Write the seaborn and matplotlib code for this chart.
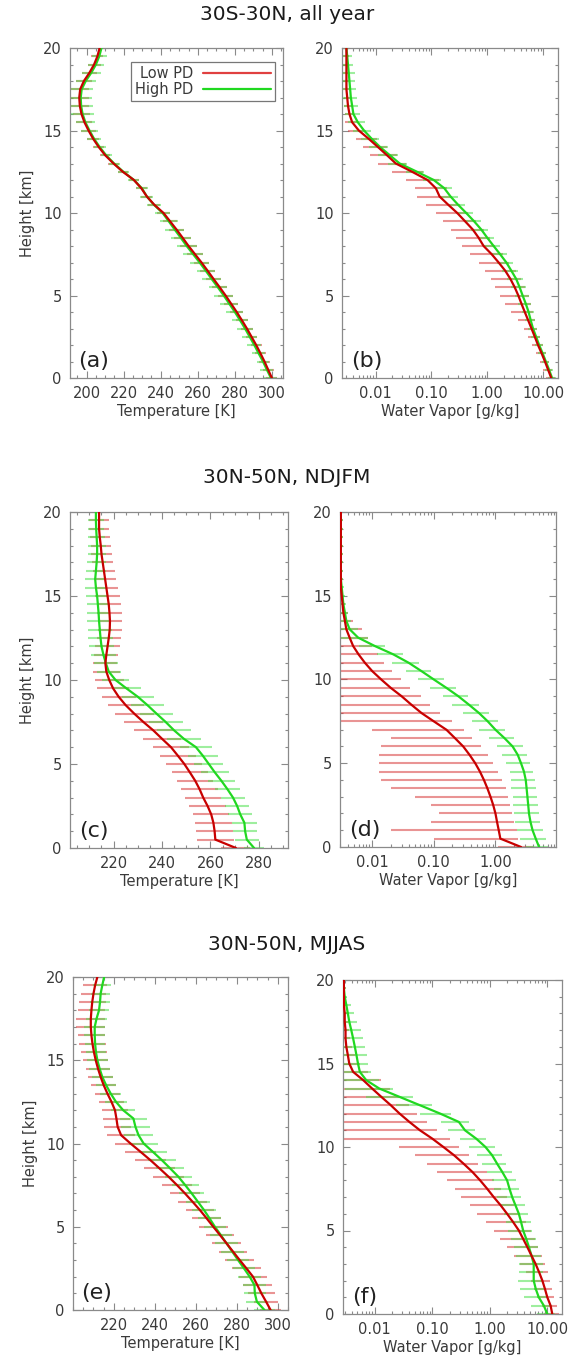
import matplotlib
matplotlib.use("Agg")
import matplotlib.pyplot as plt
import matplotlib.ticker as mticker
import seaborn as sns
import numpy as np
import pandas as pd

# height levels [km]
height_km = [0, 0.5, 1, 1.5, 2, 2.5, 3, 3.5, 4, 4.5, 5, 5.5, 6, 6.5, 7, 7.5, 8, 8.5, 9, 9.5,
             10, 10.5, 11, 11.5, 12, 12.5, 13, 13.5, 14, 14.5, 15, 15.5, 16, 16.5, 17, 17.5,
             18, 18.5, 19, 19.5, 20]

# (a) 30S-30N temperature [K]
t_trop_low = [300.0, 298.0, 296.0, 293.8, 291.5, 289.0, 286.5, 283.8, 281.0, 278.0, 275.0, 271.8,
              268.5, 265.3, 262.0, 258.5, 255.0, 251.8, 248.5, 245.0, 241.5, 236.5, 232.5, 229.5,
              225.5, 219.5, 214.5, 210.0, 206.5, 203.5, 201.0, 198.8, 197.2, 196.3, 196.0, 196.5,
              198.5, 201.5, 204.0, 205.8, 207.0]
t_trop_low_sd = [3.0, 3.0, 3.0, 3.0, 3.0, 3.0, 3.2, 3.4, 3.6, 3.8, 4.0, 4.0, 4.0, 4.0, 4.2, 4.3,
                 4.5, 4.5, 4.3, 4.0, 3.5, 3.2, 3.0, 3.0, 2.8, 2.8, 2.8, 2.8, 3.0, 3.3, 3.8, 4.3,
                 4.8, 5.0, 5.0, 4.8, 4.5, 4.0, 3.5, 3.2, 3.0]
t_trop_high = [299.5, 297.3, 295.2, 292.8, 290.5, 288.0, 285.5, 282.8, 280.0, 277.0, 274.0, 270.8,
               267.5, 264.3, 261.0, 257.5, 254.0, 250.8, 247.5, 244.3, 241.0, 236.3, 232.5, 229.8,
               225.5, 219.8, 214.8, 210.5, 207.0, 204.0, 201.5, 199.3, 197.8, 197.0, 196.8, 197.3,
               199.5, 202.5, 205.0, 206.8, 208.0]
t_trop_high_sd = [3.5, 3.5, 3.5, 3.6, 3.8, 4.0, 4.2, 4.4, 4.6, 4.8, 5.0, 5.0, 5.0, 5.0, 5.2, 5.4,
                  5.5, 5.5, 5.2, 4.8, 4.2, 3.8, 3.5, 3.2, 3.0, 3.0, 3.0, 3.0, 3.3, 3.8, 4.5, 5.3,
                  6.0, 6.3, 6.3, 6.0, 5.5, 5.0, 4.5, 4.0, 3.8]

# (b) 30S-30N water vapour [g/kg]
q_trop_low = [14.0, 12.3, 10.8, 9.4, 8.1, 7.1, 6.2, 5.4, 4.7, 4.1, 3.6, 3.1, 2.6, 2.1, 1.6, 1.2,
              0.86, 0.70, 0.55, 0.40, 0.29, 0.20, 0.14, 0.12, 0.085, 0.045, 0.023, 0.016, 0.011,
              0.0075, 0.0050, 0.0038, 0.0034, 0.0032, 0.0031, 0.0030, 0.0030, 0.0030, 0.0030,
              0.0030, 0.0030]
q_trop_low_sd = [2.5, 2.3, 2.1, 1.9, 1.8, 1.7, 1.7, 1.9, 2.0, 2.0, 1.9, 1.7, 1.45, 1.2, 0.9, 0.7,
                 0.5, 0.42, 0.33, 0.24, 0.17, 0.12, 0.085, 0.07, 0.05, 0.025, 0.012, 0.008, 0.005,
                 0.003, 0.0018, 0.0010, 0.0006, 0.0005, 0.0004, 0.0004, 0.0004, 0.0004, 0.0004,
                 0.0004, 0.0004]
q_trop_high = [14.5, 12.8, 11.2, 9.8, 8.5, 7.5, 6.6, 6.0, 5.5, 4.9, 4.3, 3.8, 3.3, 2.7, 2.2, 1.7,
               1.3, 1.0, 0.78, 0.58, 0.42, 0.30, 0.22, 0.17, 0.11, 0.055, 0.027, 0.018, 0.012,
               0.0085, 0.0062, 0.0048, 0.0040, 0.0038, 0.0036, 0.0035, 0.0034, 0.0033, 0.0032,
               0.0031, 0.0030]
q_trop_high_sd = [2.2, 2.0, 1.8, 1.6, 1.4, 1.3, 1.3, 1.3, 1.3, 1.3, 1.2, 1.1, 1.0, 0.85, 0.7, 0.55,
                  0.42, 0.33, 0.26, 0.2, 0.14, 0.1, 0.075, 0.06, 0.04, 0.02, 0.01, 0.007, 0.0045,
                  0.003, 0.0022, 0.0016, 0.0012, 0.0011, 0.0010, 0.0010, 0.0009, 0.0009, 0.0008,
                  0.0006, 0.0004]

# (c) 30N-50N NDJFM temperature [K]
t_win_low = [270.5, 262.0, 261.7, 261.2, 260.3, 258.8, 257.0, 255.5, 253.7, 251.5, 249.2, 246.5,
             243.7, 240.0, 236.4, 232.3, 228.5, 225.0, 222.1, 219.8, 218.2, 217.0, 216.6, 217.0,
             217.5, 218.0, 218.4, 218.5, 218.3, 218.0, 217.5, 217.0, 216.5, 216.0, 215.5, 215.0,
             214.7, 214.3, 214.0, 214.0, 214.0]
t_win_low_sd = [6.0, 7.5, 7.5, 7.5, 7.5, 7.5, 7.5, 7.5, 7.5, 7.5, 7.5, 7.5, 7.5, 7.8, 8.0, 8.0,
                8.0, 7.5, 7.0, 6.5, 6.0, 5.5, 5.0, 5.0, 5.0, 5.0, 5.0, 5.0, 5.0, 5.0, 5.0, 4.8,
                4.6, 4.5, 4.4, 4.3, 4.2, 4.1, 4.0, 4.0, 4.0]
t_win_high = [278.0, 275.0, 274.3, 274.0, 272.3, 271.0, 269.3, 267.0, 264.5, 261.8, 259.3, 256.8,
              254.0, 249.0, 245.0, 241.5, 237.7, 234.0, 230.0, 225.3, 220.8, 218.0, 216.8, 215.8,
              215.0, 214.6, 214.3, 214.0, 213.8, 213.5, 213.2, 212.7, 212.4, 212.7, 213.0, 213.2,
              213.2, 213.0, 212.8, 212.7, 212.7]
t_win_high_sd = [4.0, 5.0, 5.0, 5.0, 5.0, 5.0, 5.0, 5.2, 5.5, 5.8, 6.0, 6.2, 6.5, 7.0, 7.0, 7.0,
                 7.0, 6.8, 6.5, 6.0, 5.5, 5.0, 5.0, 5.0, 5.0, 5.0, 5.0, 4.8, 4.8, 4.6, 4.5, 4.4,
                 4.2, 4.0, 4.0, 3.8, 3.6, 3.5, 3.3, 3.2, 3.0]

# (d) 30N-50N NDJFM water vapour [g/kg]
q_win_low = [2.6, 1.20, 1.13, 1.06, 1.00, 0.92, 0.83, 0.74, 0.65, 0.56, 0.47, 0.38, 0.30, 0.22,
             0.16, 0.10, 0.063, 0.043, 0.030, 0.020, 0.014, 0.010, 0.0076, 0.0060, 0.0049, 0.0043,
             0.0038, 0.0036, 0.0034, 0.0033, 0.0032, 0.0031, 0.0031, 0.0031, 0.0031, 0.0031,
             0.0031, 0.0031, 0.0031, 0.0031, 0.0031]
q_win_low_sd = [1.5, 1.1, 1.11, 0.97, 0.88, 0.83, 0.78, 0.72, 0.636, 0.547, 0.457, 0.367, 0.286,
                0.2, 0.15, 0.1, 0.065, 0.045, 0.032, 0.021, 0.015, 0.011, 0.008, 0.0062, 0.005,
                0.0042, 0.003, 0.0012, 0.0006, 0.0003, 0.0002, 0.0002, 0.0002, 0.0002, 0.0002,
                0.0002, 0.0002, 0.0002, 0.0002, 0.0002, 0.0002]
q_win_high = [5.1, 4.5, 4.0, 3.7, 3.5, 3.4, 3.3, 3.2, 3.1, 2.9, 2.6, 2.3, 1.9, 1.4, 1.0, 0.75,
              0.54, 0.37, 0.25, 0.16, 0.10, 0.063, 0.039, 0.022, 0.011, 0.0059, 0.0043, 0.0038,
              0.0036, 0.0034, 0.0033, 0.0032, 0.0031, 0.0031, 0.0031, 0.0031, 0.0031, 0.0031,
              0.0031, 0.0031, 0.0031]
q_win_high_sd = [2.0, 2.0, 1.8, 1.6, 1.5, 1.5, 1.4, 1.4, 1.3, 1.2, 1.1, 1.0, 0.85, 0.62, 0.45,
                 0.33, 0.24, 0.17, 0.11, 0.072, 0.045, 0.028, 0.018, 0.010, 0.005, 0.0028, 0.0015,
                 0.0008, 0.0005, 0.0004, 0.0003, 0.0003, 0.0003, 0.0003, 0.0003, 0.0003, 0.0003,
                 0.0003, 0.0003, 0.0003, 0.0003]

# (e) 30N-50N MJJAS temperature [K]
t_sum_low = [296.5, 294.3, 292.0, 290.0, 287.9, 284.7, 281.4, 278.2, 275.0, 271.8, 268.5, 265.3,
             262.0, 258.4, 254.7, 250.8, 246.7, 242.3, 237.8, 233.0, 228.1, 223.5, 221.8, 221.2,
             220.5, 218.8, 216.8, 215.0, 213.5, 212.2, 211.1, 210.2, 209.5, 209.0, 208.7, 208.7,
             209.0, 209.4, 210.0, 210.8, 211.9]
t_sum_low_sd = [5.0, 6.0, 6.5, 7.0, 7.0, 7.0, 7.0, 7.0, 7.0, 7.0, 7.0, 7.0, 7.0, 7.0, 7.2, 7.4,
                7.5, 7.5, 7.5, 7.5, 7.5, 7.0, 6.5, 6.5, 6.5, 6.3, 6.0, 6.0, 6.0, 6.0, 6.0, 6.2,
                6.5, 6.8, 7.0, 7.0, 6.8, 6.5, 6.2, 5.8, 5.5]
t_sum_high = [293.5, 289.8, 288.8, 288.6, 286.3, 283.5, 280.6, 277.8, 275.0, 272.2, 269.3, 266.7,
              264.0, 261.0, 258.0, 254.8, 251.5, 247.5, 243.4, 239.0, 234.5, 232.0, 230.5, 229.5,
              224.5, 221.0, 218.4, 216.2, 214.3, 213.0, 211.9, 211.2, 210.8, 210.6, 210.6, 211.5,
              212.7, 213.2, 213.5, 214.3, 215.2]
t_sum_high_sd = [5.0, 5.5, 5.5, 5.5, 5.5, 5.5, 5.5, 5.5, 5.5, 5.5, 5.5, 5.7, 6.0, 6.0, 6.2, 6.5,
                 6.5, 6.8, 7.0, 7.0, 7.0, 7.0, 7.0, 6.5, 6.0, 5.5, 5.0, 5.0, 5.0, 5.0, 5.0, 5.0,
                 5.0, 5.0, 5.0, 5.0, 5.0, 4.8, 4.5, 4.3, 4.0]

# (f) 30N-50N MJJAS water vapour [g/kg]
q_sum_low = [12.2, 11.4, 10.0, 9.1, 8.2, 7.2, 6.25, 5.3, 4.5, 3.8, 3.2, 2.55, 2.0, 1.55, 1.17, 0.9,
             0.68, 0.5, 0.35, 0.24, 0.156, 0.1, 0.061, 0.04, 0.027, 0.019, 0.013, 0.009, 0.0063,
             0.0042, 0.0036, 0.0034, 0.0032, 0.0031, 0.0031, 0.0030, 0.0030, 0.0029, 0.0029,
             0.0029, 0.0029]
q_sum_low_sd = [3.5, 3.4, 3.3, 3.2, 3.1, 3.0, 2.85, 2.7, 2.5, 2.3, 2.0, 1.7, 1.4, 1.1, 0.85, 0.65,
                0.5, 0.38, 0.27, 0.19, 0.13, 0.1, 0.062, 0.041, 0.028, 0.02, 0.0135, 0.0093,
                0.0065, 0.0035, 0.002, 0.0012, 0.0008, 0.0006, 0.0005, 0.0004, 0.0003, 0.0002,
                0.0002, 0.0002, 0.0002]
q_sum_high = [10.0, 8.7, 7.1, 6.3, 5.8, 5.8, 5.8, 5.3, 4.8, 4.3, 3.8, 3.5, 3.2, 2.8, 2.45, 2.2,
              2.0, 1.65, 1.34, 1.1, 0.84, 0.58, 0.37, 0.29, 0.137, 0.061, 0.027, 0.012, 0.0071,
              0.0055, 0.0051, 0.0048, 0.0045, 0.0042, 0.0039, 0.0036, 0.0034, 0.0032, 0.0030,
              0.0029, 0.0029]
q_sum_high_sd = [3.5, 3.5, 3.2, 3.0, 2.7, 2.6, 2.6, 2.4, 2.2, 2.0, 1.7, 1.6, 1.45, 1.25, 1.1, 1.0,
                 0.9, 0.75, 0.6, 0.5, 0.4, 0.28, 0.18, 0.15, 0.075, 0.038, 0.02, 0.009, 0.0045,
                 0.003, 0.0026, 0.0024, 0.0022, 0.002, 0.0018, 0.0014, 0.001, 0.0006, 0.0003,
                 0.0002, 0.0002]

row_titles = ['30S-30N, all year', '30N-50N, NDJFM', '30N-50N, MJJAS']
panel_tags = ['(a)', '(b)', '(c)', '(d)', '(e)', '(f)']
series_names = ['Low PD', 'High PD']

sns.set_style('ticks')
plt.rcParams['font.family'] = ['DejaVu Sans']

W, H = 574, 1368
fig = plt.figure(figsize=(W / 100, H / 100), dpi=100)

# axes boxes in pixels: left, right, top, bottom
boxes = [(70, 283, 48, 378), (342, 558, 48, 378),
         (70, 288, 512, 848), (340, 556, 512, 847),
         (73, 288, 977, 1310), (343, 562, 980, 1314)]
xlims = [(191, 306), (0.0025, 18.5), (202, 292), (0.003, 9.6), (200, 305), (0.0028, 18.0)]
panels = [
    (t_trop_low, t_trop_low_sd, t_trop_high, t_trop_high_sd),
    (q_trop_low, q_trop_low_sd, q_trop_high, q_trop_high_sd),
    (t_win_low, t_win_low_sd, t_win_high, t_win_high_sd),
    (q_win_low, q_win_low_sd, q_win_high, q_win_high_sd),
    (t_sum_low, t_sum_low_sd, t_sum_high, t_sum_high_sd),
    (q_sum_low, q_sum_low_sd, q_sum_high, q_sum_high_sd),
]
temp_ticks = [[200, 220, 240, 260, 280, 300], None, [220, 240, 260, 280], None,
              [220, 240, 260, 280, 300], None]

line_cols = {'Low PD': '#c80000', 'High PD': '#20d820'}
bar_cols = {'Low PD': '#d83c3c', 'High PD': '#4ee04e'}
frame_col = '#8a8a8a'
text_col = '#3a3a3a'

for i, (box, xl, pdat) in enumerate(zip(boxes, xlims, panels)):
    l, r, t, b = box
    ax = fig.add_axes([l / W, 1 - b / H, (r - l) / W, (b - t) / H])
    low, low_sd, high, high_sd = [np.asarray(v) for v in pdat]
    z = np.asarray(height_km)
    log = i % 2 == 1
    if log:
        ax.set_xscale('log')

    # spread bars (mean +/- std), red first then green on top
    for name, m, s in [('Low PD', low, low_sd), ('High PD', high, high_sd)]:
        lo = np.clip(m - s, 1e-5, None)
        ax.hlines(z, lo, m + s, colors=bar_cols[name], lw=1.5, alpha=0.55, zorder=2)

    df = pd.concat([
        pd.DataFrame({'x': high, 'height': z, 'run': 'High PD'}),
        pd.DataFrame({'x': low, 'height': z, 'run': 'Low PD'}),
    ])
    sns.lineplot(data=df, x='x', y='height', hue='run', palette=line_cols, orient='y',
                 sort=True, estimator=None, lw=1.6, legend=False, ax=ax, zorder=3)

    ax.set_xlim(*xl)
    ax.set_ylim(0, 20)
    ax.set_yticks([0, 5, 10, 15, 20])
    ax.yaxis.set_minor_locator(mticker.MultipleLocator(1))
    if log:
        ax.xaxis.set_major_locator(mticker.FixedLocator([0.01, 0.1, 1, 10]))
        ax.xaxis.set_major_formatter(mticker.FixedFormatter(['0.01', '0.10', '1.00', '10.00']))
        ax.xaxis.set_minor_locator(mticker.LogLocator(base=10, subs=np.arange(2, 10)))
        ax.xaxis.set_minor_formatter(mticker.NullFormatter())
        ax.set_xlabel('Water Vapor [g/kg]', fontsize=10.5, color=text_col, labelpad=2)
    else:
        ax.set_xticks(temp_ticks[i])
        ax.xaxis.set_minor_locator(mticker.MultipleLocator(5))
        ax.set_xlabel('Temperature [K]', fontsize=10.5, color=text_col, labelpad=2)
    ax.set_ylabel('Height [km]' if not log else '', fontsize=10.5, color=text_col, labelpad=6)

    ax.tick_params(which='both', direction='in', top=True, right=True, colors=frame_col,
                   labelcolor=text_col, labelsize=10.5, width=0.8)
    ax.tick_params(which='major', length=5, pad=6)
    ax.tick_params(which='minor', length=2.5)
    for sp in ax.spines.values():
        sp.set_color(frame_col)
        sp.set_linewidth(0.9)
    ax.text(0.04, 0.02, panel_tags[i], transform=ax.transAxes, fontsize=16,
            color='#222222', ha='left', va='bottom', zorder=5)

    if i == 0:
        handles = [plt.Line2D([], [], color=line_cols[n], lw=1.6) for n in series_names]
        handles[0].set_color('#e04040')
        leg = ax.legend(handles, series_names, loc='upper right', bbox_to_anchor=(0.962, 0.958),
                        markerfirst=False, frameon=True, fancybox=False, fontsize=10.5,
                        handlelength=4.6, handletextpad=0.7, borderpad=0.3,
                        labelspacing=0.05, borderaxespad=0)
        leg.get_frame().set_edgecolor('#555555')
        leg.get_frame().set_linewidth(0.9)
        for txt in leg.get_texts():
            txt.set_color(text_col)

for title, ypix in zip(row_titles, [15, 478, 945]):
    fig.text(287 / W, 1 - ypix / H, title, ha='center', va='center', fontsize=14.5,
             color='#1a1a1a')

fig.savefig('out.png', dpi=100)
